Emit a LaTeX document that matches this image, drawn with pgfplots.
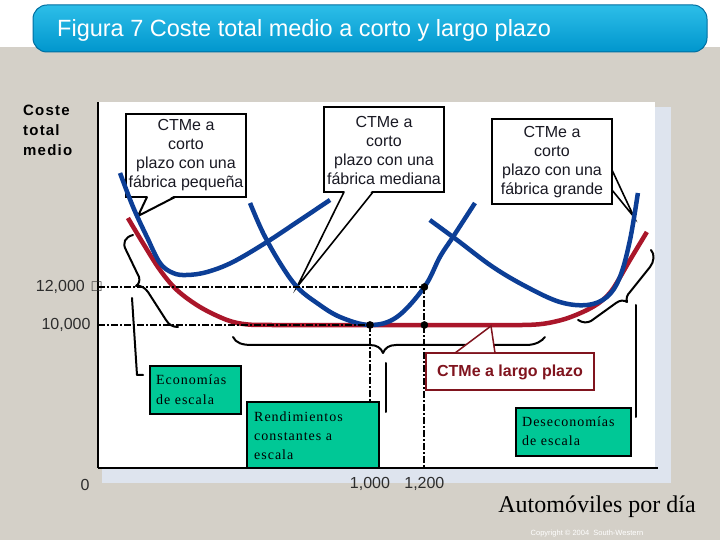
\documentclass[border=0pt]{standalone}
\usepackage{pgfplots}
\pgfplotsset{compat=1.18}
\usepackage{fontspec}
\newfontfamily\arial{Liberation Sans}
\newfontfamily\arialsp[LetterSpace=8]{Liberation Sans}
\newfontfamily\libserif{Liberation Serif}
\newfontfamily\serifsp[LetterSpace=7]{Liberation Serif}
\definecolor{bggray}{RGB}{212,208,200}
\definecolor{shadowblue}{RGB}{222,228,238}
\definecolor{curveblue}{RGB}{12,62,150}
\definecolor{curvered}{RGB}{170,22,42}
\definecolor{boxgreen}{RGB}{0,200,150}
\definecolor{darkred}{RGB}{128,20,30}
\definecolor{titletop}{RGB}{45,190,232}
\definecolor{titlebot}{RGB}{0,150,205}
\definecolor{titleedge}{RGB}{0,110,160}
\definecolor{tickgray}{RGB}{45,45,45}
\definecolor{textdark}{RGB}{25,25,35}
\begin{document}
\begin{tikzpicture}[x=1bp,y=1bp]
\fill[bggray] (0,0) rectangle (720,540);
\fill[white] (0,493) rectangle (720,540);
% title bar
\shadedraw[top color=titletop, bottom color=titlebot, draw=titleedge, line width=1bp, rounded corners=14bp] (33,488) rectangle (707,535);
\node[anchor=west, text=white, inner sep=0pt, font=\arial\fontsize{23.5bp}{26bp}\selectfont] at (57,510) {Figura 7 Coste total medio a corto y largo plazo};
% plot area
\fill[shadowblue] (102,57) rectangle (671,433);
\fill[white] (98,72) rectangle (655,438);
% callout A
\draw[line width=2bp, fill=white] (126,343) rectangle (246,426);
\fill[white] (148,344.3) -- (138,324) -- (174,344.3) -- cycle;
\draw[line width=2bp, line join=miter] (147,343) -- (138,324) -- (175,343);
\node[align=center, inner sep=0pt, text=textdark, font=\arial\fontsize{16bp}{19bp}\selectfont] at (186,384.5) {CTMe a\\corto\\plazo con una\\fábrica pequeña};
% callout B
\draw[line width=2bp, fill=white] (324,348) rectangle (444,433);
\fill[white] (345,349.3) -- (297,253) -- (372,349.3) -- cycle;
\draw[line width=1.6bp] (344,348) -- (297,253) -- (373,348);
\node[align=center, inner sep=0pt, text=textdark, font=\arial\fontsize{16bp}{19bp}\selectfont] at (384,390) {CTMe a\\corto\\plazo con una\\fábrica mediana};
% callout C
\draw[line width=2bp, fill=white] (492,336) rectangle (612,421);
\fill[white] (613.3,369) -- (634,323) -- (613.3,351) -- cycle;
\draw[line width=1.6bp] (612,370) -- (634,323) -- (612,350);
\node[align=center, inner sep=0pt, text=textdark, font=\arial\fontsize{16bp}{19bp}\selectfont] at (552,378) {CTMe a\\corto\\plazo con una\\fábrica grande};
% axis
\begin{axis}[
  at={(98bp,72bp)}, anchor=south west, scale only axis,
  width=560bp, height=366bp,
  xmin=0, xmax=2059, ymin=2474, ymax=21737,
  axis x line=bottom, axis y line=left,
  axis line style={-, line width=2.5bp, black},
  scaled x ticks=false, scaled y ticks=false,
  xtick={1000,1200}, xticklabels={{1,000},{1,200}},
  ytick={10000,12000}, yticklabels={{10,000},{12,000\hspace{7bp}□\kern-11bp}},
  major tick length=0pt,
  ticklabel style={font=\arial\fontsize{16bp}{19bp}\selectfont, text=tickgray},
  xticklabel style={yshift=-6bp},
  yticklabel style={xshift=-4bp},
  clip=false,
]
% long-run ATC
\addplot[curvered, line width=4.5bp, smooth, tension=0.55] coordinates {
 (110,15632) (165,14316) (228,12895) (290,11842) (375,10947) (474,10263)
 (548,10030) (640,10000) (800,10000) (1000,10000) (1200,10000) (1400,10000)
 (1560,10000) (1640,10070) (1720,10330) (1798,10789) (1850,11250) (1893,11900)
 (1956,13421) (2018,14895)};
% short-run ATC: small
\addplot[curveblue, line width=4.5bp, smooth, tension=0.6] coordinates {
 (81,18000) (129,16210) (180,14631) (228,13263) (276,12737) (327,12632)
 (401,12789) (496,13316) (621,14368) (743,15526) (853,16579)};
% medium
\addplot[curveblue, line width=4.5bp, smooth, tension=0.6] coordinates {
 (559,16421) (607,14842) (669,13263) (732,12000) (805,11158) (890,10421)
 (1000,10000) (1099,10421) (1200,12000) (1257,13579) (1305,14631) (1386,16421)};
% large
\addplot[curveblue, line width=4.5bp, smooth, tension=0.6] coordinates {
 (1220,15526) (1320,14474) (1452,13053) (1577,12000) (1698,11211) (1798,11053)
 (1871,11474) (1919,12526) (1956,14474) (1985,16947)};
% reference lines
\addplot[black, line width=1.8bp, dash pattern=on 7bp off 2bp on 2bp off 2bp] coordinates {(0,12000) (1200,12000)};
\addplot[black, line width=1.8bp, dash pattern=on 7bp off 2bp on 2bp off 2bp] coordinates {(0,10000) (1000,10000)};
\addplot[black, line width=1.8bp, dash pattern=on 7bp off 2bp on 2bp off 2bp] coordinates {(1000,10000) (1000,2474)};
\addplot[black, line width=1.8bp, dash pattern=on 7bp off 2bp on 2bp off 2bp] coordinates {(1200,12000) (1200,2474)};
\addplot[only marks, mark=*, mark size=3.6bp, black] coordinates {(1000,10000) (1200,10000) (1200,12000)};
\node[font=\arial\fontsize{16bp}{19bp}\selectfont, text=tickgray] at ([xshift=-13bp,yshift=-17bp]axis cs:0,2474) {0};
\end{axis}
% braces
\begin{scope}[line width=2bp, line cap=round, line join=round]
\draw (133,305) .. controls (125,303) and (122,297) .. (126,290) -- (139,263)
      .. controls (140,259) and (139,256) .. (136,254)
      .. controls (141,255) and (145,252) .. (148,248) -- (166,220)
      .. controls (169,215) and (173,213) .. (178,213);
\draw (132,242) -- (137,165) -- (143,165);
\draw (233,203) .. controls (236,197) and (242,195) .. (252,195) -- (370,195)
      .. controls (377,195) and (381,192) .. (383,187)
      .. controls (385,192) and (389,195) .. (396,195) -- (526,195)
      .. controls (536,195) and (542,199) .. (545,203);
\draw (386,177) -- (386,128);
\draw (578,220) .. controls (583,217) and (587,217) .. (591,219) -- (616,237)
      .. controls (620,240) and (624,240) .. (627,238)
      .. controls (626,242) and (627,245) .. (630,248) -- (650,273)
      .. controls (654,278) and (655,286) .. (651,290);
\draw (636,235) -- (636,123);
\end{scope}
% callout D
\draw[darkred, line width=1.5bp, fill=white] (426,150) rectangle (594,187);
\fill[white] (456,187.8) -- (491,214) -- (494,187.8) -- cycle;
\draw[darkred, line width=1.5bp] (455,187) -- (491,214) -- (495,187);
\node[text=darkred, font=\arial\bfseries\fontsize{16bp}{19bp}\selectfont] at (510,168) {CTMe a largo plazo};
% green boxes
\draw[line width=2.5bp, fill=boxgreen] (150,126) rectangle (241,174);
\node[anchor=west, align=left, inner sep=0pt, font=\serifsp\fontsize{14bp}{20bp}\selectfont] at (156,150) {Economías\\de escala};
\draw[line width=2.5bp, fill=boxgreen] (247,72) rectangle (379,138);
\node[anchor=west, align=left, inner sep=0pt, font=\serifsp\fontsize{14bp}{19bp}\selectfont] at (254,104) {Rendimientos\\constantes a\\escala};
\draw[line width=2.5bp, fill=boxgreen] (516,84) rectangle (631,132);
\node[anchor=west, align=left, inner sep=0pt, font=\serifsp\fontsize{14bp}{19bp}\selectfont] at (522,108.5) {Deseconomías\\de escala};
% axis titles
\node[anchor=north west, align=left, inner sep=0pt, font=\arialsp\bfseries\fontsize{15bp}{20bp}\selectfont] at (23,435) {Coste\\total\\medio};
\node[font=\libserif\fontsize{24bp}{26bp}\selectfont] at (597,33) {Automóviles por día};
\node[text=white, font=\arial\fontsize{7.5bp}{9bp}\selectfont] at (587,6) {Copyright © 2004\ \ South-Western};
\end{tikzpicture}
\end{document}
